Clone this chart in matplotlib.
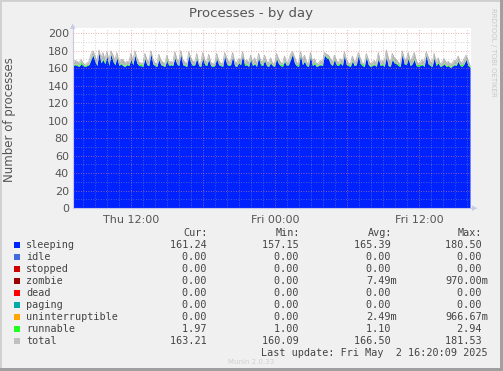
import numpy as np
import matplotlib
matplotlib.use("Agg")
import matplotlib.pyplot as plt
from matplotlib.patches import Rectangle

# ---- data ----
start_hour = 7.17   # Thu 07:10 (hours from Thu 00:00)
end_hour = 40.33    # Fri 16:20
sleeping = [163,164,163,162,165,163,162,163,164,170,175,168,163,178,166,170,165,174,163,176,168,164,172,163,165,
            163,162,164,163,170,164,175,166,163,163,162,171,164,163,177,165,163,162,170,164,163,162,169,163,164,
            163,172,165,163,176,164,163,162,175,166,163,164,171,163,162,172,164,163,170,163,162,163,171,164,163,
            162,174,165,163,164,173,163,162,166,164,175,163,164,162,170,163,165,162,172,164,163,169,163,162,166,
            163,162,171,165,163,162,168,163,164,170,176,166,163,162,175,164,168,163,162,174,163,165,162,163,164,
            163,175,172,171,165,163,170,164,163,166,163,175,164,163,162,168,163,164,175,165,163,162,173,164,162,
            163,164,162,171,163,164,162,173,163,162,170,166,165,163,162,176,165,164,171,163,165,170,163,162,163,
            164,162,175,165,163,162,172,163,166,162,163,165,162,163,161,162,164,163,168,163,162,165,170,163,161]
runnable = [1.2,1.0,1.5,1.1,2.9,1.0,1.3,1.0,1.1,1.6,1.0,1.2,1.0,1.4,1.0,1.1,2.2,1.0,1.3,1.0,1.5,1.0,1.1,1.0,1.2,
            1.0,1.1,1.3,1.0,1.0,1.7,1.0,1.1,1.0,2.4,1.2,1.0,1.0,1.5,1.1,1.0,1.2,1.0,1.3,1.0,1.0,1.1,2.0,1.0,1.2,
            1.0,1.1,1.0,1.4,1.0,1.0,1.2,1.0,1.1,1.3,1.0,1.0,1.6,1.0,1.1,1.0,2.1,1.2,1.0,1.1,1.0,1.3,1.0,1.0,1.2,
            1.0,1.1,1.0,1.5,1.0,1.2,1.0,1.0,1.1,1.4,1.0,2.5,1.0,1.2,1.0,1.1,1.0,1.3,1.0,2.2,1.0,1.1,1.2,1.0,1.3,
            1.1,1.0,1.4,1.0,1.2,2.6,1.0,1.1,1.0,1.3,1.0,1.0,1.2,1.9,1.0,1.1,1.0,1.4,1.0,1.2,1.0,2.3,1.1,1.0,1.0,
            1.2,1.0,1.1,1.5,1.0,1.0,1.3,1.0,2.0,1.1,1.0,1.2,1.0,1.0,1.6,1.0,1.1,1.0,1.3,1.0,2.4,1.0,1.1,1.2,1.0,
            1.0,1.3,1.0,1.1,1.0,1.8,1.0,1.2,1.0,1.1,1.0,1.4,1.0,2.2,1.0,1.1,1.0,1.3,1.2,1.0,1.0,1.5,1.0,2.7,1.1,
            1.0,1.2,1.0,1.1,1.3,1.0,1.0,2.1,1.0,1.2,1.0,1.1,1.4,1.0,1.0,1.2,1.0,1.6,1.0,1.1,2.5,1.0,1.2,1.0,1.97]
total = [167,169,168,166,170,166,164,166,168,176,180,174,168,181,172,178,170,179,169,180,175,169,178,167,170,
         170,166,168,167,177,169,180,172,167,166,165,177,170,167,180,171,166,165,176,169,167,165,175,167,168,
         166,179,171,167,180,170,167,165,179,172,168,167,177,166,166,178,170,166,176,167,165,166,177,169,166,
         165,178,172,167,169,178,168,166,171,169,179,167,170,166,175,167,172,165,177,169,167,175,168,166,172,
         166,165,177,171,167,165,174,166,168,176,179,173,167,165,179,170,175,167,165,178,168,171,165,166,169,
         167,178,176,175,171,167,175,169,166,171,167,179,170,166,165,174,167,170,178,171,166,165,177,170,165,
         167,169,165,178,167,169,166,181,172,166,177,172,170,167,165,180,171,170,178,168,172,178,169,165,167,
         170,166,179,173,168,166,177,167,172,165,167,171,166,168,165,166,169,168,174,168,166,171,175,169,163]

tick_hours = [12, 24, 36]
tick_labels = ["Thu 12:00", "Fri 00:00", "Fri 12:00"]
yticks = [0, 20, 40, 60, 80, 100, 120, 140, 160, 180, 200]

legend_names = ["sleeping", "idle", "stopped", "zombie", "dead", "paging",
                "uninterruptible", "runnable", "total"]
legend_colors = ["#0022ff", "#4169e1", "#cc0000", "#990000", "#ff0000", "#00aaaa",
                 "#ffa500", "#22ff22", "#c0c0c0"]
cur = ["161.24", "0.00", "0.00", "0.00", "0.00", "0.00", "0.00", "1.97", "163.21"]
mins = ["157.15", "0.00", "0.00", "0.00", "0.00", "0.00", "0.00", "1.00", "160.09"]
avgs = ["165.39", "0.00", "0.00", "7.49m", "0.00", "0.00", "2.49m", "1.10", "166.50"]
maxs = ["180.50", "0.00", "0.00", "970.00m", "0.00", "0.00", "966.67m", "2.94", "181.53"]

# ---- figure ----
W, H = 503, 371
fig = plt.figure(figsize=(W / 100, H / 100), dpi=100, facecolor="#f0f0f0")

def fx(px):
    return px / W

def fy(py):
    return 1 - py / H

# frame (3D look)
fig.patches.append(Rectangle((0, 0), 1, 1, transform=fig.transFigure, fill=False,
                             edgecolor="#cfcfcf", lw=2))
fig.patches.append(Rectangle((fx(W - 3), 0), fx(3), 1, transform=fig.transFigure,
                             color="#a0a0a0", lw=0))
fig.patches.append(Rectangle((0, 0), 1, 3 / H, transform=fig.transFigure,
                             color="#a0a0a0", lw=0))

ax = fig.add_axes([fx(73), fy(208), fx(471) - fx(73), (208 - 28) / H])
ax.set_facecolor("white")
ax.set_xlim(start_hour, end_hour)
ax.set_ylim(0, 206)

t = np.linspace(start_hour, end_hour - 0.08, len(sleeping))
s = np.array(sleeping, float)
r = np.array(runnable, float)
tot = np.array(total, float)
top = s + r
ax.fill_between(t, 0, s, color="#0022ff", lw=0, zorder=1)
ax.fill_between(t, s, top, color="#22ff22", lw=0, zorder=1)
ax.fill_between(t, top, np.maximum(tot, top), color="#b8b8b8", lw=0, zorder=1)
ax.plot(t, tot, color="#b0b0b0", lw=0.5, zorder=2)

# grid
for h in range(8, 41):
    major = (h % 6 == 0)
    ax.axvline(h, color="#e08080" if major else "#a0a0a0", lw=0.6,
               ls=(0, (1, 2)), alpha=0.8 if major else 0.6, zorder=3)
for v in range(10, 206, 10):
    major = (v % 20 == 0)
    ax.axhline(v, color="#e08080" if major else "#a0a0a0", lw=0.6,
               ls=(0, (1, 2)), alpha=0.8 if major else 0.6, zorder=3)

for sp in ["top", "right"]:
    ax.spines[sp].set_visible(False)
for sp in ["left", "bottom"]:
    ax.spines[sp].set_color("#c8c8e8")
    ax.spines[sp].set_linewidth(0.8)
ax.set_xticks(tick_hours)
ax.set_xticklabels(tick_labels)
ax.set_yticks(yticks)
ax.tick_params(axis="both", length=0, labelsize=8, labelcolor="#555555", pad=3)
ax.tick_params(axis="x", pad=5)

# arrows
fig.text(fx(73), fy(26), "▲", color="#c8c8e8", fontsize=5, ha="center", va="center")
fig.text(fx(475), fy(208), "▶", color="#c8c8e8", fontsize=5, ha="center", va="center")

fig.text(fx(251), fy(13), "Processes - by day", ha="center", va="center",
         fontsize=9.5, color="#555555")
fig.text(fx(10), fy(120), "Number of processes", rotation=90, ha="center",
         va="center", fontsize=8.5, color="#555555")
fig.text(fx(493), fy(52), "RRDTOOL / TOBI OETIKER", rotation=270, ha="center",
         va="center", fontsize=5, color="#c8c8c8")

mono = "DejaVu Sans Mono"
fs = 7.3
fig.text(fx(208), fy(233), "Cur:", ha="right", va="center", family=mono, fontsize=fs, color="#444444")
fig.text(fx(300), fy(233), "Min:", ha="right", va="center", family=mono, fontsize=fs, color="#444444")
fig.text(fx(392), fy(233), "Avg:", ha="right", va="center", family=mono, fontsize=fs, color="#444444")
fig.text(fx(482), fy(233), "Max:", ha="right", va="center", family=mono, fontsize=fs, color="#444444")

def padm(sv):
    return sv if sv.endswith("m") else sv + " "

for i, name in enumerate(legend_names):
    y = 245 + 12 * i
    fig.patches.append(Rectangle((fx(14), fy(y + 3)), fx(6), 6 / H,
                                 transform=fig.transFigure, color=legend_colors[i], lw=0))
    fig.text(fx(26), fy(y), name, ha="left", va="center", family=mono, fontsize=fs, color="#444444")
    fig.text(fx(213), fy(y), padm(cur[i]), ha="right", va="center", family=mono, fontsize=fs, color="#444444")
    fig.text(fx(305), fy(y), padm(mins[i]), ha="right", va="center", family=mono, fontsize=fs, color="#444444")
    fig.text(fx(397), fy(y), padm(avgs[i]), ha="right", va="center", family=mono, fontsize=fs, color="#444444")
    fig.text(fx(488), fy(y), padm(maxs[i]), ha="right", va="center", family=mono, fontsize=fs, color="#444444")

fig.text(fx(488), fy(353), "Last update: Fri May  2 16:20:09 2025", ha="right",
         va="center", family=mono, fontsize=fs, color="#444444")
fig.text(fx(251), fy(362), "Munin 2.0.33", ha="center", va="center",
         fontsize=5, color="#d0d0d0")

fig.savefig("out.png", dpi=100, facecolor=fig.get_facecolor())
